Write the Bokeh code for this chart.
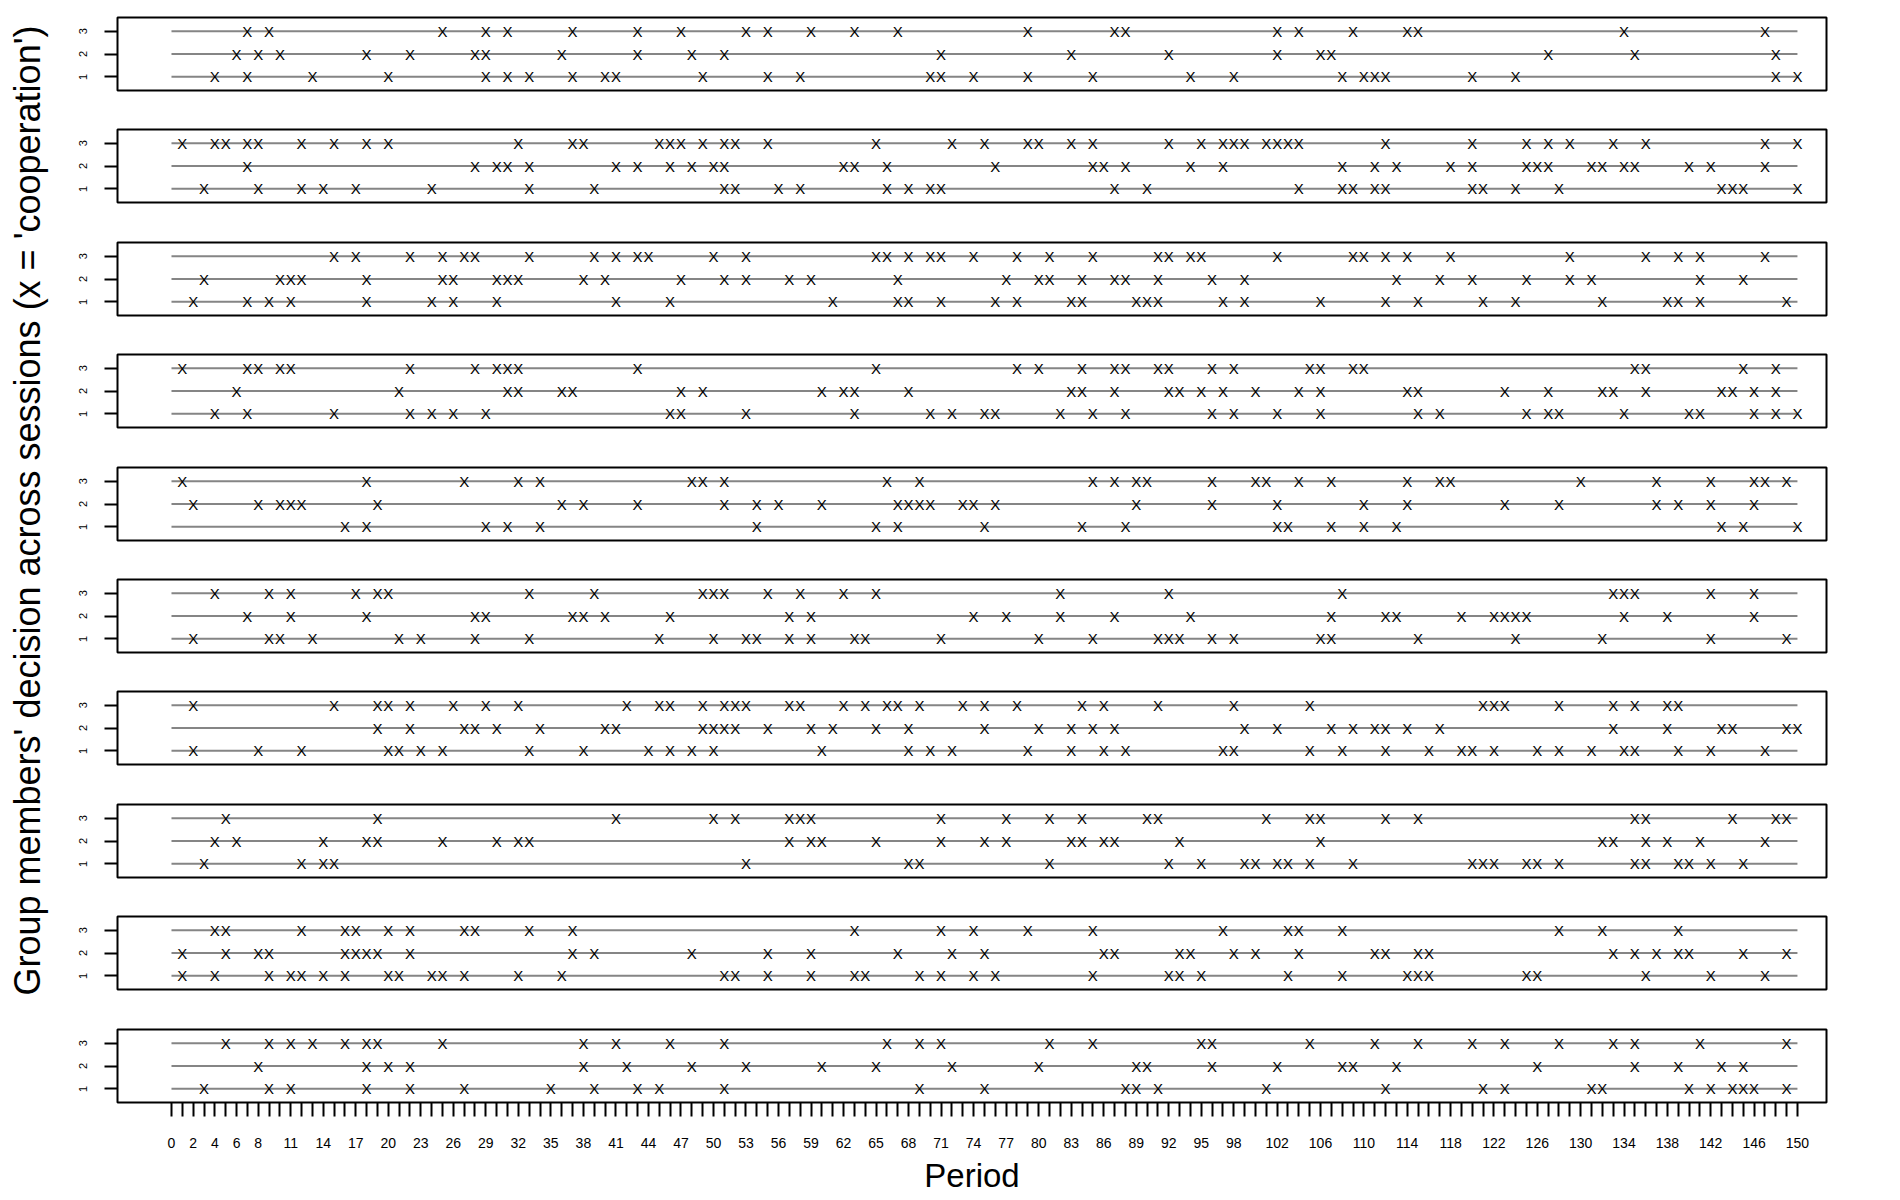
from math import pi
from bokeh.plotting import figure
from bokeh.layouts import column, row
from bokeh.models import Range1d, FixedTicker, Label, ColumnDataSource
from bokeh.core.properties import value
from bokeh.embed import file_html
from bokeh.resources import INLINE

# ---------------- data ----------------
periods = list(range(0, 151))
x_tick_labels = [0, 2, 4, 6, 8] + list(range(11, 99, 3)) + list(range(102, 151, 4))
member_ticks = [1, 2, 3]

s1_row1 = [4,7,13,20,29,31,33,37,40,41,49,55,58,70,71,74,79,85,94,98,108,110,111,112,120,124,148,150]
s1_row2 = [6,8,10,18,22,28,29,36,43,48,51,71,83,92,102,106,107,127,135,148]
s1_row3 = [7,9,25,29,31,37,43,47,53,55,59,63,67,79,87,88,102,104,109,114,115,134,147]

s2_row1 = [3,8,12,14,17,24,33,39,51,52,56,58,66,68,70,71,87,90,104,108,109,111,112,120,121,124,128,143,144,145,150]
s2_row2 = [7,28,30,31,33,41,43,46,48,50,51,62,63,66,76,85,86,88,94,97,108,111,113,118,120,125,126,127,131,132,134,135,140,142,147]
s2_row3 = [1,4,5,7,8,12,15,18,20,32,37,38,45,46,47,49,51,52,55,65,72,75,79,80,83,85,92,95,97,98,99,101,102,103,104,112,120,125,127,129,133,136,147,150]

s3_row1 = [2,7,9,11,18,24,26,30,41,46,61,67,68,71,76,78,83,84,89,90,91,97,99,106,112,115,121,124,132,138,139,141,149]
s3_row2 = [3,10,11,12,18,25,26,30,31,32,38,40,47,51,53,57,59,67,77,80,81,84,87,88,91,96,99,113,117,120,125,129,131,141,145]
s3_row3 = [15,17,22,25,27,28,33,39,41,43,44,50,53,65,66,68,70,71,74,78,81,85,91,92,94,95,102,109,110,112,114,118,129,136,139,141,147]

s4_row1 = [4,7,15,22,24,26,29,46,47,53,63,70,72,75,76,82,85,88,96,98,102,106,115,117,125,127,128,134,140,141,146,148,150]
s4_row2 = [6,21,31,32,36,37,47,49,60,62,63,68,83,84,87,92,93,95,97,100,104,106,114,115,123,127,132,133,136,143,144,146,148]
s4_row3 = [1,7,8,10,11,22,28,30,31,32,43,65,78,80,84,87,88,91,92,96,98,105,106,109,110,135,136,145,148]

s5_row1 = [16,18,29,31,34,54,65,67,75,84,88,102,103,107,110,113,143,145,150]
s5_row2 = [2,8,10,11,12,19,36,38,43,51,54,56,60,67,68,69,70,73,74,76,89,96,102,110,114,123,128,137,139,142,146]
s5_row3 = [1,18,27,32,34,48,49,51,66,69,85,87,89,90,96,100,101,104,107,114,117,118,130,137,142,146,147,149]

s6_row1 = [2,9,10,13,21,23,28,33,45,50,53,54,57,59,63,64,71,80,85,91,92,93,96,98,106,107,115,124,132,142,149]
s6_row2 = [7,11,18,28,29,37,38,40,46,57,59,74,77,82,87,94,107,112,113,119,122,123,124,125,134,138,146]
s6_row3 = [4,9,11,17,19,20,33,39,49,50,51,55,58,62,65,82,92,108,133,134,135,142,146]

s7_row1 = [2,8,12,20,21,23,25,33,38,44,46,48,50,60,68,70,72,79,83,86,88,97,98,105,108,112,116,119,120,122,126,128,131,134,135,139,142,147]
s7_row2 = [19,22,27,28,30,34,40,41,49,50,51,52,55,59,61,65,68,75,80,83,85,87,99,102,107,109,111,112,114,117,133,138,143,144,149,150]
s7_row3 = [2,15,19,20,22,26,29,32,42,45,46,49,51,52,53,57,58,62,64,66,67,69,73,75,78,84,86,91,98,105,121,122,123,128,133,135,138,139]

s8_row1 = [3,12,14,15,53,68,69,81,92,95,99,100,102,103,105,109,120,121,122,125,126,128,135,136,139,140,142,145]
s8_row2 = [4,6,14,18,19,25,30,32,33,57,59,60,65,71,75,77,83,84,86,87,93,106,132,133,136,138,141,147]
s8_row3 = [5,19,41,50,52,57,58,59,71,77,81,84,90,91,101,105,106,112,115,135,136,144,148,149]

s9_row1 = [1,4,9,11,12,14,16,20,21,24,25,27,32,36,51,52,55,59,63,64,69,71,74,76,85,92,93,95,103,108,114,115,116,125,126,136,142,147]
s9_row2 = [1,5,8,9,16,17,18,19,22,37,39,48,55,59,67,72,75,86,87,93,94,98,100,104,111,112,115,116,133,135,137,139,140,145,149]
s9_row3 = [4,5,12,16,17,20,22,27,28,33,37,63,71,74,79,85,97,103,104,108,128,132,139]

s10_row1 = [3,9,11,18,22,27,35,39,43,45,51,69,75,88,89,91,101,112,121,123,131,132,140,142,144,145,146,149]
s10_row2 = [8,18,20,22,38,42,48,53,60,65,72,80,89,90,96,102,108,109,113,126,135,139,143,145]
s10_row3 = [5,9,11,13,16,18,19,25,38,41,46,51,66,69,71,81,85,95,96,105,111,115,120,123,128,133,135,141,149]

sessions = [
    (s1_row1, s1_row2, s1_row3), (s2_row1, s2_row2, s2_row3),
    (s3_row1, s3_row2, s3_row3), (s4_row1, s4_row2, s4_row3),
    (s5_row1, s5_row2, s5_row3), (s6_row1, s6_row2, s6_row3),
    (s7_row1, s7_row2, s7_row3), (s8_row1, s8_row2, s8_row3),
    (s9_row1, s9_row2, s9_row3), (s10_row1, s10_row2, s10_row3),
]

y_title = "Group members' decision across sessions (x = 'cooperation')"
x_title = "Period"

# ---------------- drawing ----------------
FONT = "Liberation Sans"
top_borders = [17, 19, 20, 19, 20, 19, 19, 20, 19, 20]
panels = []
n = len(sessions)
for i, rows in enumerate(sessions):
    last = (i == n - 1)
    p = figure(frame_width=1709, frame_height=73,
               x_range=Range1d(-4.98, 152.68), y_range=Range1d(0.4, 3.6),
               output_backend="svg", toolbar_location=None,
               x_axis_location="below" if last else None,
               min_border_left=57, min_border_right=20,
               min_border_top=top_borders[i], min_border_bottom=95 if last else 20)
    p.grid.visible = False
    p.outline_line_color = "black"
    p.outline_line_width = 2
    p.background_fill_color = "white"
    p.border_fill_color = "white"

    for r, xs in zip(member_ticks, rows):
        p.line(x=[periods[0], periods[-1]], y=[r, r], line_color="#858585", line_width=2)
        src = ColumnDataSource(dict(x=xs, y=[r] * len(xs)))
        p.text(x="x", y="y", text=value("X"), source=src,
               text_align="center", text_baseline="middle",
               text_font=value(FONT), text_font_size="15px", text_color="black")

    ya = p.yaxis[0]
    ya.ticker = FixedTicker(ticks=member_ticks)
    ya.major_label_orientation = "vertical"
    ya.major_label_text_font = FONT
    ya.major_label_text_font_size = "11px"
    ya.major_label_text_color = "black"
    ya.major_tick_out = 13
    ya.major_tick_in = 0
    ya.major_tick_line_width = 2
    ya.major_tick_line_color = "black"
    ya.minor_tick_line_color = None
    ya.axis_line_color = None
    ya.major_label_standoff = 18

    if last:
        xa = p.xaxis[0]
        xa.ticker = FixedTicker(ticks=periods)
        xa.major_label_overrides = {t: (str(t) if t in x_tick_labels else "") for t in periods}
        xa.major_label_text_font = FONT
        xa.major_label_text_font_size = "14px"
        xa.major_label_text_color = "black"
        xa.major_tick_out = 14
        xa.major_tick_in = 0
        xa.major_tick_line_width = 2
        xa.major_tick_line_color = "black"
        xa.minor_tick_line_color = None
        xa.axis_line_color = None
        xa.major_label_standoff = 21
        xa.axis_label = x_title
        xa.axis_label_text_font = FONT
        xa.axis_label_text_font_size = "33px"
        xa.axis_label_text_font_style = "normal"
        xa.axis_label_text_color = "black"
        xa.axis_label_standoff = 6
    panels.append(p)

tf = figure(width=60, height=1200, x_range=Range1d(0, 60), y_range=Range1d(0, 1200),
            output_backend="svg", toolbar_location=None,
            x_axis_location=None, y_axis_location=None, min_border=0)
tf.grid.visible = False
tf.outline_line_color = None
tf.add_layout(Label(x=27, y=1200 - 510, text=y_title, angle=pi / 2,
                    text_align="center", text_baseline="middle",
                    text_font=FONT, text_font_size="36px", text_color="black"))

layout = row(tf, column(*panels, spacing=0), spacing=0)
open("out.html", "w").write(file_html(layout, INLINE))
